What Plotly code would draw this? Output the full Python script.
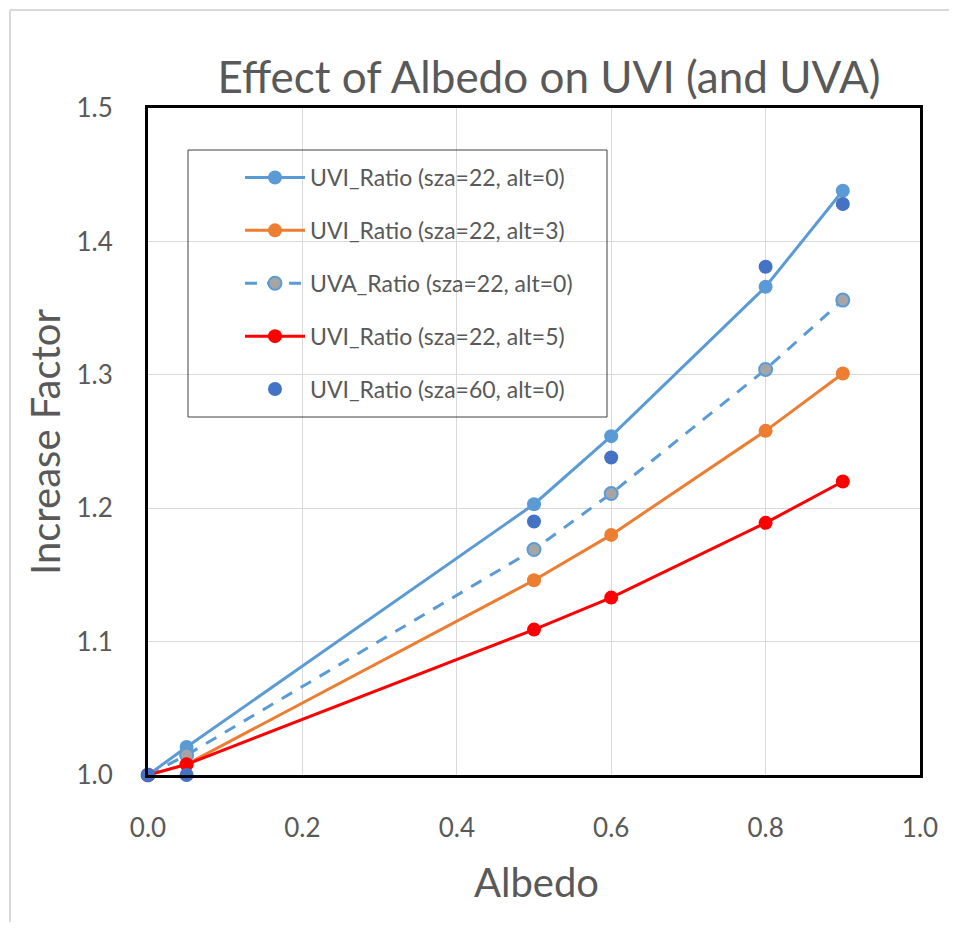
import plotly.graph_objects as go

albedo = [0.0, 0.05, 0.5, 0.6, 0.8, 0.9]
uvi_sza22_alt0 = [1.0, 1.021, 1.203, 1.254, 1.366, 1.438]
uvi_sza22_alt3 = [1.0, 1.008, 1.146, 1.180, 1.258, 1.301]
uva_sza22_alt0 = [1.0, 1.015, 1.169, 1.211, 1.304, 1.356]
uvi_sza22_alt5 = [1.0, 1.008, 1.109, 1.133, 1.189, 1.220]
uvi_sza60_alt0 = [1.0, 1.0, 1.190, 1.238, 1.381, 1.428]

names = [
    "UVI_Ratio (sza=22, alt=0)",
    "UVI_Ratio (sza=22, alt=3)",
    "UVA_Ratio (sza=22, alt=0)",
    "UVI_Ratio (sza=22, alt=5)",
    "UVI_Ratio (sza=60, alt=0)",
]
x_ticks = [0, 0.2, 0.4, 0.6, 0.8, 1.0]
x_ticktext = ["0.0", "0.2", "0.4", "0.6", "0.8", "1.0"]
y_ticks = [1.0, 1.1, 1.2, 1.3, 1.4, 1.5]
y_ticktext = ["1.0", "1.1", "1.2", "1.3", "1.4", "1.5"]

FONT = "Lato, 'Open Sans', sans-serif"
TXT = "#595959"
MS = 14

fig = go.Figure()
fig.add_trace(go.Scatter(x=albedo, y=uvi_sza22_alt0, name=names[0], mode="lines+markers",
                         line=dict(color="#5B9BD5", width=3), marker=dict(size=MS, color="#5B9BD5"),
                         legendgroup="a", cliponaxis=False))
fig.add_trace(go.Scatter(x=albedo, y=uvi_sza22_alt3, name=names[1], mode="lines+markers",
                         line=dict(color="#ED7D31", width=3), marker=dict(size=MS, color="#ED7D31"),
                         legendgroup="b", cliponaxis=False))
fig.add_trace(go.Scatter(x=albedo, y=uva_sza22_alt0, name=names[2], mode="lines+markers",
                         line=dict(color="#5B9BD5", width=3, dash="12px,10px"),
                         marker=dict(size=MS - 1, color="#A5A5A5", line=dict(color="#5B9BD5", width=2)),
                         legendgroup="c", cliponaxis=False))
fig.add_trace(go.Scatter(x=albedo, y=uvi_sza22_alt5, name=names[3], mode="lines+markers",
                         line=dict(color="#FF0000", width=3), marker=dict(size=MS, color="#FF0000"),
                         legendgroup="d", cliponaxis=False))
fig.add_trace(go.Scatter(x=albedo, y=uvi_sza60_alt0, name=names[4], mode="markers",
                         marker=dict(size=MS, color="#4472C4"),
                         legendgroup="e", cliponaxis=False))

# the page body has an 8px margin; work in reference-screen pixels and shift
OFF = 8
W, H = 957 - 2 * OFF, 930 - 2 * OFF
L, T = 148 - OFF, 108 - OFF
R = W - (920 - OFF)
B = H - (775 - OFF)
pw, ph = W - L - R, H - T - B


def px(x):
    return (x - OFF - L) / pw


def py(y):
    return (H - B - (y - OFF)) / ph


fig.update_layout(
    width=W, height=H,
    margin=dict(l=L, r=R, t=T, b=B),
    paper_bgcolor="white", plot_bgcolor="white",
    font=dict(family=FONT, color=TXT),
    title=dict(text="Effect of Albedo on UVI (and UVA)", x=px(549), xref="paper", xanchor="center",
               y=1 - (78 - OFF) / H, yref="container", yanchor="middle",
               font=dict(size=44, color=TXT, family=FONT)),
    showlegend=True,
    legend=dict(x=px(240), y=py(156), xanchor="left", yanchor="top",
                bgcolor="rgba(0,0,0,0)", borderwidth=0,
                font=dict(size=23, color=TXT, family=FONT),
                tracegroupgap=20, traceorder="grouped", itemwidth=60),
    xaxis=dict(range=[0, 1], tickvals=x_ticks, ticktext=x_ticktext,
               showgrid=True, gridcolor="#D9D9D9", gridwidth=1,
               showline=True, linecolor="black", linewidth=3, mirror=True,
               ticks="", zeroline=False, ticklabelstandoff=28,
               tickfont=dict(size=26, color=TXT, family=FONT)),
    yaxis=dict(range=[1.0, 1.5], tickvals=y_ticks, ticktext=y_ticktext,
               showgrid=True, gridcolor="#D9D9D9", gridwidth=1,
               showline=True, linecolor="black", linewidth=3, mirror=True,
               ticks="", zeroline=False, ticklabelstandoff=27,
               tickfont=dict(size=26, color=TXT, family=FONT)),
    annotations=[
        dict(text="Albedo", x=px(536), y=py(882), xref="paper", yref="paper",
             showarrow=False, xanchor="center", yanchor="middle",
             font=dict(size=40, color=TXT, family=FONT)),
        dict(text="Increase Factor", x=px(45), y=py(442), xref="paper", yref="paper",
             showarrow=False, xanchor="center", yanchor="middle", textangle=-90,
             font=dict(size=40, color=TXT, family=FONT)),
    ],
    shapes=[
        dict(type="rect", xref="paper", yref="paper", x0=px(188), x1=px(607), y0=py(417), y1=py(150),
             line=dict(color="#404040", width=1), fillcolor="rgba(0,0,0,0)", layer="above"),
        dict(type="line", xref="paper", yref="paper", x0=px(10), x1=px(10), y0=py(10), y1=py(960),
             line=dict(color="#D9D9D9", width=2)),
        dict(type="line", xref="paper", yref="paper", x0=px(10), x1=px(990), y0=py(10), y1=py(10),
             line=dict(color="#D9D9D9", width=2)),
    ],
)

fig.write_html("out.html")
